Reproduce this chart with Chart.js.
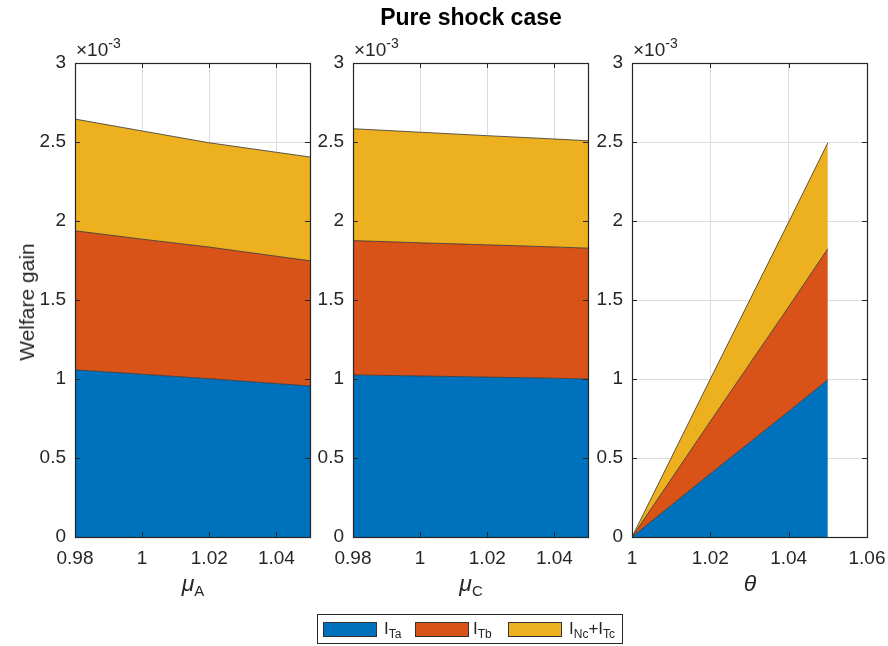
<!DOCTYPE html>
<html>
<head>
<meta charset="utf-8">
<script src="https://cdn.jsdelivr.net/npm/chart.js@4/dist/chart.umd.min.js"></script>
<style>
  body { margin: 0; background: #fff; font-family: "Liberation Sans", Arial, sans-serif; color: #262626; }
  #wrap { position: relative; width: 888px; height: 646px; overflow: hidden; }
  canvas { position: absolute; top: 0; }
  .lbl { position: absolute; white-space: nowrap; }
  .title { top: 4px; left: 0; width: 942px; text-align: center; font-weight: bold; font-size: 23px; color: #000; }
  .ylab { font-size: 21px; left: 27px; top: 302px; transform: translate(-50%, -50%) rotate(-90deg); }
  .exp { font-size: 19px; top: 36px; }
  .exp sup { font-size: 14px; position: relative; top: -1px; }
  .xlab { font-size: 21px; top: 570px; transform: translateX(-50%); }
  .xlab i { font-size: 23px; }
  .xlab sub { font-size: 15px; }
  #legend { position: absolute; left: 317px; top: 614px; width: 306px; height: 30px; border: 1px solid #262626; box-sizing: border-box; font-size: 17px; }
  .sw { position: absolute; top: 7px; width: 54px; height: 15px; border: 1px solid #333; box-sizing: border-box; }
  .lt { position: absolute; top: 4px; }
  .lt sub { font-size: 12px; }
</style>
</head>
<body>
<div id="wrap">
  <canvas id="c1" width="330" height="600"></canvas>
  <canvas id="c2" width="330" height="600"></canvas>
  <canvas id="c3" width="330" height="600"></canvas>
  <div class="lbl title">Pure shock case</div>
  <div class="lbl ylab">Welfare gain</div>
  <div class="lbl exp" style="left:76px">×10<sup>-3</sup></div>
  <div class="lbl exp" style="left:354px">×10<sup>-3</sup></div>
  <div class="lbl exp" style="left:633px">×10<sup>-3</sup></div>
  <div class="lbl xlab" style="left:193px"><i>μ</i><sub>A</sub></div>
  <div class="lbl xlab" style="left:471px"><i>μ</i><sub>C</sub></div>
  <div class="lbl xlab" style="left:750px"><i>θ</i></div>
  <div id="legend">
    <div class="sw" style="left:5px;background:#0072BD"></div>
    <div class="lt" style="left:66px">I<sub>Ta</sub></div>
    <div class="sw" style="left:97px;background:#D95319"></div>
    <div class="lt" style="left:155px">I<sub>Tb</sub></div>
    <div class="sw" style="left:190px;background:#EDB120"></div>
    <div class="lt" style="left:251px">I<sub>Nc</sub>+I<sub>Tc</sub></div>
  </div>
</div>
<script>
// values in units of 1e-3
const muA = [0.98, 1.00, 1.02, 1.04, 1.05];
const muA_Ta = [1.058, 1.030, 1.002, 0.971, 0.956];
const muA_Tb = [0.880, 0.855, 0.833, 0.806, 0.792];
const muA_NcTc = [0.707, 0.685, 0.660, 0.658, 0.657];

const muC = [0.98, 1.00, 1.02, 1.04, 1.05];
const muC_Ta = [1.026, 1.019, 1.012, 1.005, 1.000];
const muC_Tb = [0.850, 0.843, 0.837, 0.831, 0.828];
const muC_NcTc = [0.708, 0.700, 0.691, 0.683, 0.680];

const theta = [1.00, 1.02, 1.04, 1.05];
const theta_Ta = [0, 0.400, 0.795, 0.995];
const theta_Tb = [0, 0.332, 0.662, 0.830];
const theta_NcTc = [0, 0.268, 0.536, 0.670];

const yTicks = [0, 0.5, 1, 1.5, 2, 2.5, 3];
const xTicksMu = [0.98, 1, 1.02, 1.04];
const xTicksTheta = [1, 1.02, 1.04, 1.06];

const colors = ['#0072BD', '#D95319', '#EDB120'];
const font = { family: '"Liberation Sans", Arial, sans-serif', size: 19 };

const boxPlugin = {
  id: 'box',
  afterDatasetsDraw(chart) {
    const { ctx, chartArea: a, scales } = chart;
    ctx.save();
    ctx.strokeStyle = '#262626';
    ctx.lineWidth = 1;
    ctx.beginPath();
    scales.x.ticks.forEach(t => {
      const px = Math.round(scales.x.getPixelForValue(t.value)) + 0.5;
      ctx.moveTo(px, a.bottom); ctx.lineTo(px, a.bottom - 5);
      ctx.moveTo(px, a.top); ctx.lineTo(px, a.top + 5);
    });
    scales.y.ticks.forEach(t => {
      const py = Math.round(scales.y.getPixelForValue(t.value)) + 0.5;
      ctx.moveTo(a.left, py); ctx.lineTo(a.left + 5, py);
      ctx.moveTo(a.right, py); ctx.lineTo(a.right - 5, py);
    });
    ctx.stroke();
    ctx.lineWidth = 1.2;
    ctx.strokeRect(Math.round(a.left) + 0.5, Math.round(a.top) + 0.5, Math.round(a.right - a.left), Math.round(a.bottom - a.top));
    ctx.restore();
  }
};

function makePanel(id, left, xs, series, xmin, xmax, xTicks) {
  const el = document.getElementById(id);
  el.style.left = (left - 60) + 'px';
  new Chart(el.getContext('2d'), {
    type: 'line',
    data: {
      datasets: series.map((s, i) => ({
        data: xs.map((x, j) => ({ x: x, y: s[j] })),
        backgroundColor: colors[i],
        borderColor: '#333',
        borderWidth: 0.8,
        pointRadius: 0,
        fill: i === 0 ? 'origin' : '-1',
        tension: 0
      }))
    },
    options: {
      responsive: false,
      animation: false,
      layout: { padding: { left: 0, right: 35, top: 63, bottom: 23 } },
      plugins: { legend: { display: false }, tooltip: { enabled: false } },
      scales: {
        x: {
          type: 'linear', min: xmin, max: xmax,
          afterFit: s => { s.height = 40; s.paddingLeft = 0; s.paddingRight = 0; },
          afterBuildTicks: s => { s.ticks = xTicks.map(v => ({ value: v })); },
          grid: { color: '#dcdcdc', drawTicks: false },
          border: { display: false },
          ticks: { font: font, color: '#262626', padding: 10, maxRotation: 0, autoSkip: false,
                   callback: v => String(v) }
        },
        y: {
          stacked: true, min: 0, max: 3,
          afterFit: s => { s.width = 60; s.paddingTop = 0; s.paddingBottom = 0; },
          afterBuildTicks: s => { s.ticks = yTicks.map(v => ({ value: v })); },
          grid: { color: '#dcdcdc', drawTicks: false },
          border: { display: false },
          ticks: { font: font, color: '#262626', padding: 9, callback: v => String(v) }
        }
      }
    },
    plugins: [boxPlugin]
  });
}

makePanel('c1', 75, muA, [muA_Ta, muA_Tb, muA_NcTc], 0.98, 1.05, xTicksMu);
makePanel('c2', 353, muC, [muC_Ta, muC_Tb, muC_NcTc], 0.98, 1.05, xTicksMu);
makePanel('c3', 632, theta, [theta_Ta, theta_Tb, theta_NcTc], 1, 1.06, xTicksTheta);
</script>
</body>
</html>
